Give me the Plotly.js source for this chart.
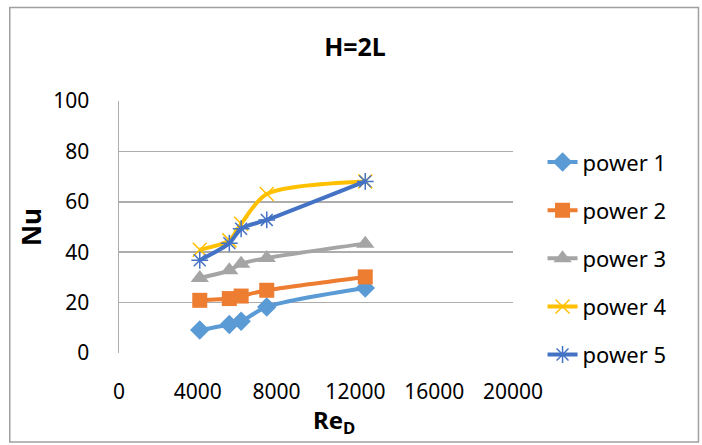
<!DOCTYPE html>
<html>
<head>
<meta charset="utf-8">
<script src="https://cdn.plot.ly/plotly-3.0.1.min.js"></script>
<style>
html,body{margin:0;padding:0;background:#fff;}
#chart{width:702px;height:445px;}
</style>
</head>
<body>
<div id="chart"></div>
<script>
const seriesNames = ["power 1", "power 2", "power 3", "power 4", "power 5"];
const reD = [4100, 5600, 6200, 7500, 12500];
const power1 = [9.1, 11.3, 12.6, 18.3, 25.8];
const power2 = [20.9, 21.6, 22.6, 24.9, 30.2];
const power3 = [29.8, 32.8, 35.4, 37.7, 43.4];
const power4 = [41.0, 44.7, 51.3, 63.1, 68.1];
const power5 = [36.8, 43.6, 49.3, 52.8, 68.1];
const xTicks = [0, 4000, 8000, 12000, 16000, 20000];
const yTicks = [0, 20, 40, 60, 80, 100];

const colors = ["#5B9BD5", "#ED7D31", "#A5A5A5", "#FFC000", "#4472C4"];
const symbols = ["diamond", "square", "triangle-up", "x-thin-open", "asterisk-open"];
const sizes = [15, 15, 16, 14, 14];
const values = [power1, power2, power3, power4, power5];

const traces = values.map((v, i) => ({
  x: reD,
  y: v,
  name: seriesNames[i],
  legendgroup: "g" + i,
  type: "scatter",
  mode: "lines+markers",
  line: {color: colors[i], width: 4, shape: "spline", smoothing: 0.8},
  marker: {
    symbol: symbols[i],
    size: sizes[i],
    color: colors[i],
    line: {color: colors[i], width: (i >= 3 ? 1.5 : 0)}
  }
}));

const F = "Noto Sans, Liberation Sans, sans-serif";
const layout = {
  width: 702,
  height: 445,
  margin: {l: 119, r: 189, t: 101, b: 92},
  paper_bgcolor: "#fff",
  plot_bgcolor: "#fff",
  showlegend: true,
  title: {text: "<b>H=2L</b>", font: {family: F, size: 25, color: "#000"}, xref: "container", x: 0.5057, xanchor: "center", yref: "container", y: 0.893, yanchor: "middle"},
  xaxis: {
    range: [0, 20000],
    tickvals: xTicks,
    ticktext: xTicks.map(String),
    showgrid: false,
    zeroline: false,
    showline: false,
    ticks: "outside",
    ticklen: 20,
    tickcolor: "rgba(0,0,0,0)",
    tickfont: {family: F, size: 21, color: "#000"}
  },
  yaxis: {
    range: [0, 100],
    tickvals: yTicks,
    ticktext: yTicks.map(String),
    showgrid: true,
    gridcolor: "#ADADAD",
    gridwidth: 1.5,
    zeroline: false,
    showline: true,
    linecolor: "#ADADAD",
    linewidth: 1.5,
    ticks: "outside",
    ticklen: 24,
    tickcolor: "rgba(0,0,0,0)",
    tickfont: {family: F, size: 21, color: "#000"},
    title: {text: "<b>Nu</b>", font: {family: F, size: 26, color: "#000"}, standoff: 4}
  },
  annotations: [{
    text: "<b>Re<sub>D</sub></b>",
    xref: "paper", yref: "paper",
    x: 0.545, xanchor: "center",
    y: -0.192, yanchor: "top",
    showarrow: false,
    font: {family: F, size: 24, color: "#000"}
  }],
  legend: {
    x: 1.075, xanchor: "left",
    y: 0.84, yanchor: "top",
    font: {family: F, size: 22, color: "#000"},
    traceorder: "grouped",
    tracegroupgap: 16.5,
    bgcolor: "rgba(0,0,0,0)"
  },
  shapes: [{
    type: "rect", xref: "paper", yref: "paper",
    x0: -0.2772, x1: 1.4707, y0: -0.353, y1: 1.371,
    line: {color: "#A0A0A0", width: 1.5}, fillcolor: "rgba(0,0,0,0)", layer: "below"
  }]
};

Plotly.newPlot("chart", traces, layout, {displayModeBar: false, staticPlot: true});
</script>
</body>
</html>
